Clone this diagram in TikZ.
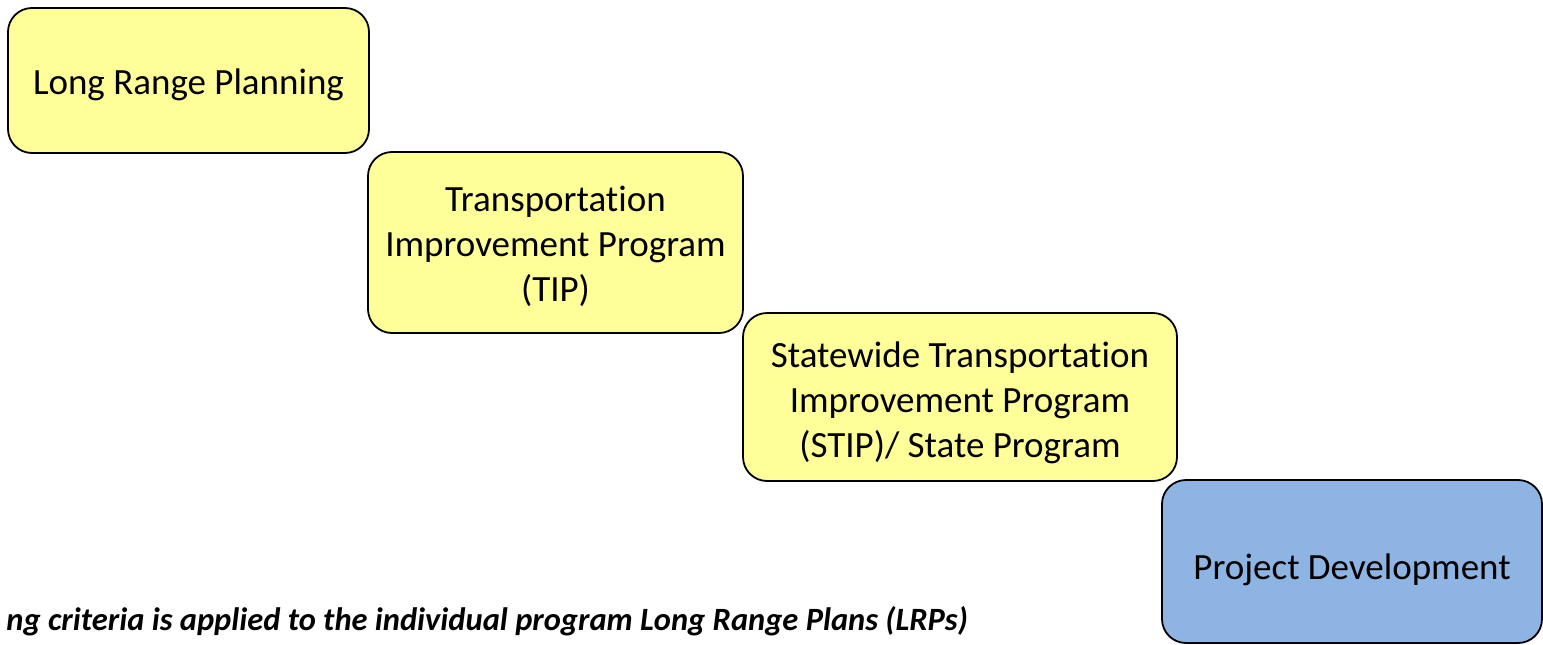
\documentclass[tikz,border=0pt]{standalone}
\usepackage{fontspec}
\setmainfont{Carlito}[Ligatures=NoCommon]
\usepackage{tikz}
\usetikzlibrary{calc,positioning}
\definecolor{stageyellow}{HTML}{FFFF99}
\definecolor{stageblue}{HTML}{8EB4E3}
\tikzset{>=latex}
\tikzset{
  stage/.style={draw=black, line width=1.8pt, rounded corners=24pt, fill=stageyellow, inner sep=0pt},
  final/.style={stage, fill=stageblue},
  stagetext/.style={align=center, inner sep=0pt, yshift=-4pt, font=\fontsize{37}{45}\selectfont},
  note/.style={font=\fontsize{32.5}{38}\selectfont\bfseries\itshape, inner sep=0pt}
}

\begin{document}
\begin{tikzpicture}[x=1pt,y=-1pt]
\useasboundingbox (0,0) rectangle (1543,645);
\node[stage, minimum width=361pt, minimum height=145pt,
  label={[stagetext]center:Long Range Planning}] (lrp) at (188.5,80.5) {};
\node[stage, minimum width=375pt, minimum height=181pt,
  label={[stagetext]center:{Transportation\\ Improvement Program\\ (TIP)}}] (tip) at (555.5,242.5) {};
\node[stage, minimum width=434pt, minimum height=168pt,
  label={[stagetext, yshift=-2pt]center:{Statewide Transportation\\ Improvement Program\\ (STIP)/ State Program}}] (stip) at (960,397) {};
\node[final, minimum width=380pt, minimum height=163pt,
  label={[stagetext, yshift=-4pt]center:Project Development}] (pd) at (1352,561.5) {};
\node[note, anchor=base east] (crit) at (968,630)
  {ng criteria is applied to the individual program Long Range Plans (LRPs)};
\end{tikzpicture}
\end{document}
